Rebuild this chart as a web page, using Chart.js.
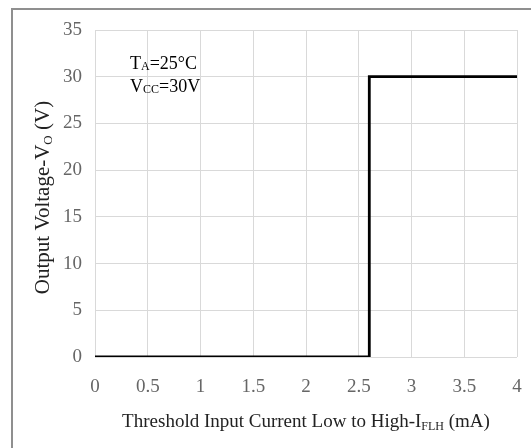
<!DOCTYPE html>
<html>
<head>
<meta charset="utf-8">
<script src="https://cdn.jsdelivr.net/npm/chart.js@4/dist/chart.umd.min.js"></script>
<style>
  html, body { margin: 0; padding: 0; background: #fff; }
  #wrap { width: 531px; height: 448px; position: relative; }
</style>
</head>
<body>
<div id="wrap"><canvas id="chart" width="531" height="448"></canvas></div>
<script>
// threshold step: output switches high at ~2.6 mA
const currentMA = [0, 2.6, 2.6, 4];
const outputV = [0, 0, 30, 30];
const xRange = [0, 4];
const yRange = [0, 35];
const xStep = 0.5;
const yStep = 5;

const serif = '"Liberation Serif", "Times New Roman", serif';

// draws a row of text pieces (normal + subscript) starting at x
function drawRuns(ctx, runs, x, y, center) {
  let w = 0;
  runs.forEach(r => { ctx.font = r.size + 'px ' + serif; w += ctx.measureText(r.t).width; });
  let cx = center ? x - w / 2 : x;
  runs.forEach(r => {
    ctx.font = r.size + 'px ' + serif;
    ctx.fillText(r.t, cx, y + (r.dy || 0));
    cx += ctx.measureText(r.t).width;
  });
}

const extras = {
  id: 'extras',
  afterDraw(chart) {
    const ctx = chart.ctx; const a = chart.chartArea;
    ctx.save();
    // outer frame
    ctx.strokeStyle = '#8f8f8f'; ctx.lineWidth = 2;
    ctx.beginPath(); ctx.moveTo(12, 460); ctx.lineTo(12, 9); ctx.lineTo(540, 9); ctx.stroke();

    ctx.fillStyle = '#000'; ctx.textBaseline = 'alphabetic'; ctx.textAlign = 'left';
    drawRuns(ctx, [{t: 'T', size: 18}, {t: 'A', size: 12, dy: 1}, {t: '=25°C', size: 18}], 130, 69, false);
    drawRuns(ctx, [{t: 'V', size: 18}, {t: 'CC', size: 12, dy: 1}, {t: '=30V', size: 18}], 130, 92, false);

    ctx.fillStyle = '#222';
    drawRuns(ctx, [{t: 'Threshold Input Current Low to High-I', size: 19}, {t: 'FLH', size: 12, dy: 3}, {t: ' (mA)', size: 19}], (a.left + a.right) / 2, 427, true);

    ctx.translate(49, (a.top + a.bottom) / 2 + 4);
    ctx.rotate(-Math.PI / 2);
    drawRuns(ctx, [{t: 'Output Voltage-V', size: 21}, {t: 'O', size: 13, dy: 3}, {t: ' (V)', size: 21}], 0, 0, true);
    ctx.restore();
  }
};

new Chart(document.getElementById('chart'), {
  type: 'line',
  data: {
    datasets: [{
      data: currentMA.map((x, i) => ({ x: x, y: outputV[i] })),
      borderColor: '#000', borderWidth: 2.8, pointRadius: 0, tension: 0, fill: false
    }]
  },
  options: {
    responsive: false, animation: false,
    layout: { padding: { left: 0, top: 30, right: 14, bottom: 0 } },
    plugins: { legend: { display: false }, tooltip: { enabled: false } },
    scales: {
      x: {
        type: 'linear', min: xRange[0], max: xRange[1],
        grid: { color: '#d9d9d9', drawTicks: false },
        border: { display: false },
        ticks: { stepSize: xStep, padding: 19, color: '#666', font: { family: serif, size: 19 }, callback: v => String(v) },
        afterFit: s => { s.height = 91; s.paddingLeft = 0; s.paddingRight = 0; }
      },
      y: {
        min: yRange[0], max: yRange[1],
        grid: { color: '#d9d9d9', drawTicks: false },
        border: { display: false },
        ticks: { stepSize: yStep, padding: 13, color: '#666', font: { family: serif, size: 19 }, callback: v => String(v) },
        afterFit: s => { s.width = 95; }
      }
    }
  },
  plugins: [extras]
});
</script>
</body>
</html>
